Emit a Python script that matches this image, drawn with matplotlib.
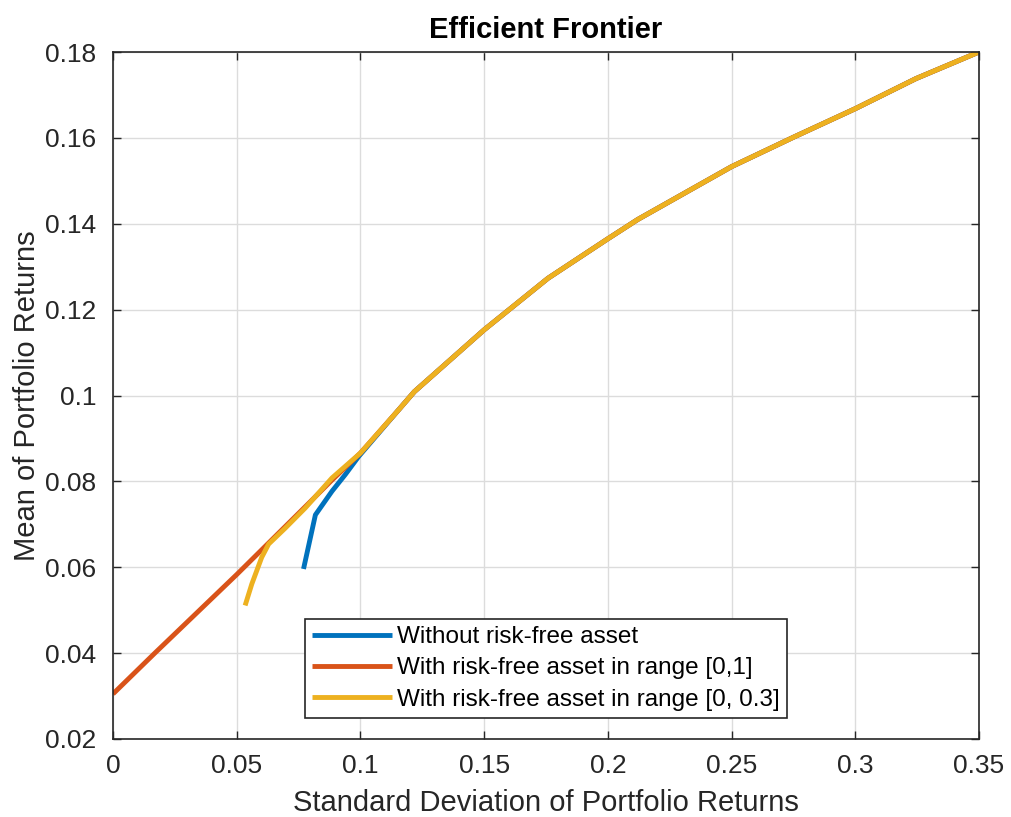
import matplotlib
matplotlib.use("Agg")
import matplotlib.pyplot as plt
import numpy as np

# shared upper part of the frontier (all three curves coincide here)
frontier_sd = [0.1155, 0.1218, 0.15, 0.1758, 0.2, 0.2121, 0.25, 0.2752, 0.3, 0.3245, 0.35]
frontier_mean = [0.0967, 0.1009, 0.1153, 0.1273, 0.1365, 0.1410, 0.1533, 0.1602, 0.1668, 0.1738, 0.18]

# lower parts
norf_sd = [0.0770, 0.0818, 0.0885, 0.0939, 0.0993]
norf_mean = [0.0596, 0.0722, 0.0777, 0.0816, 0.0858]

rf01_sd = [0.0, 0.0169, 0.05, 0.0784, 0.0885, 0.1]
rf01_mean = [0.0305, 0.040, 0.0583, 0.0745, 0.0803, 0.0866]

rf03_sd = [0.0534, 0.0561, 0.0601, 0.0629, 0.0696, 0.0777, 0.0885, 0.1]
rf03_mean = [0.0511, 0.0561, 0.0623, 0.0654, 0.0691, 0.0738, 0.0808, 0.0866]

labels = ["Without risk-free asset",
          "With risk-free asset in range [0,1]",
          "With risk-free asset in range [0, 0.3]"]
colors = ["#0072BD", "#D95319", "#EDB120"]

xticks = [0, 0.05, 0.1, 0.15, 0.2, 0.25, 0.3, 0.35]
yticks = [0.02, 0.04, 0.06, 0.08, 0.1, 0.12, 0.14, 0.16, 0.18]

plt.rcParams['font.family'] = ['Liberation Sans', 'DejaVu Sans']
dark = '#262626'

fig = plt.figure(figsize=(10.12, 8.17), dpi=100)
ax = fig.add_axes([113 / 1012, 1 - 739 / 817, 866 / 1012, 687 / 817])

series = [(norf_sd, norf_mean), (rf01_sd, rf01_mean), (rf03_sd, rf03_mean)]
for (sd, mu), c, lab in zip(series, colors, labels):
    x = np.concatenate([sd, frontier_sd])
    y = np.concatenate([mu, frontier_mean])
    ax.plot(x, y, color=c, linewidth=3.5, label=lab, solid_capstyle='butt')

ax.set_xlim(0, 0.35)
ax.set_ylim(0.02, 0.18)
ax.set_xticks(xticks)
ax.set_yticks(yticks)
ax.set_xticklabels(["%g" % t for t in xticks])
ax.set_yticklabels(["%g" % t for t in yticks])
ax.tick_params(direction='in', top=True, right=True, length=6, width=1,
               colors=dark, labelsize=19)
ax.tick_params(axis='x', pad=11)
ax.tick_params(axis='y', pad=12)
for s in ax.spines.values():
    s.set_color(dark)
    s.set_linewidth(1.2)
ax.grid(True, color='#dcdcdc', linewidth=1)
ax.set_axisbelow(True)

ax.set_xlabel("Standard Deviation of Portfolio Returns", fontsize=21, color=dark, labelpad=8)
ax.set_ylabel("Mean of Portfolio Returns", fontsize=21, color=dark, labelpad=3)
ax.set_title("Efficient Frontier", fontsize=21, fontweight='bold', pad=10)

leg = ax.legend(loc='lower left', bbox_to_anchor=(0.2217, 0.0306), fontsize=17.5,
                frameon=True, fancybox=False, edgecolor=dark, framealpha=1,
                handlelength=3.3, handletextpad=0.2, borderpad=0.3,
                labelspacing=0.38, borderaxespad=0)
leg.get_frame().set_linewidth(1.2)

fig.savefig("out.png", dpi=100)
